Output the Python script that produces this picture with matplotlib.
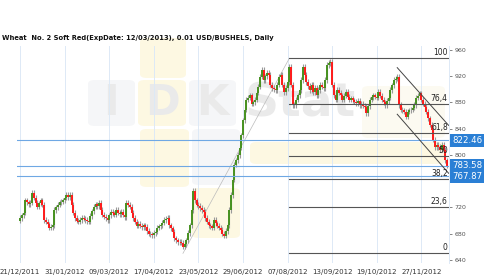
import matplotlib
matplotlib.use("Agg")
import matplotlib.pyplot as plt
from matplotlib.patches import FancyBboxPatch
import matplotlib.transforms as mtransforms

# ---------------- data ----------------
title = "Wheat  No. 2 Soft Red(ExpDate: 12/03/2013), 0.01 USD/BUSHELS, Daily"

closes = [
    704, 708, 712, 731, 728, 725, 727, 742, 735, 727,
    721, 726, 731, 724, 701, 698, 694, 689, 690, 693,
    716, 720, 724, 728, 729, 731, 735, 739, 736, 739,
    724, 712, 704, 700, 698, 701, 704, 703, 701, 699,
    698, 707, 714, 721, 725, 722, 727, 716, 709, 706,
    704, 701, 708, 713, 711, 709, 716, 712, 710, 713,
    709, 705, 727, 724, 721, 712, 704, 698, 692, 695,
    692, 690, 693, 690, 684, 680, 679, 678, 681, 683,
    689, 691, 693, 697, 701, 703, 704, 693, 688, 683,
    673, 670, 667, 668, 666, 660, 664, 670, 681, 693,
    716, 745, 731, 724, 722, 719, 716, 713, 704, 698,
    693, 691, 689, 701, 696, 692, 689, 686, 680, 677,
    684, 693, 716, 739, 762, 785, 792, 800, 811, 830,
    853, 869, 884, 887, 891, 878, 880, 884, 895, 904,
    919, 930, 914, 920, 925, 922, 907, 902, 900, 899,
    907, 919, 922, 907, 896, 902, 911, 934, 907, 876,
    876, 884, 891, 899, 914, 934, 922, 911, 905, 899,
    907, 896, 902, 891, 899, 907, 904, 902, 914, 937,
    940, 942, 907, 891, 884, 899, 895, 891, 884, 890,
    896, 889, 884, 886, 883, 881, 879, 882, 876, 878,
    875, 873, 864, 874, 884, 888, 891, 889, 887, 896,
    890, 884, 880, 876, 882, 887, 899, 906, 914, 916,
    919, 876, 869, 868, 866, 858, 866, 868, 869, 872,
    876, 887, 890, 894, 884, 878, 873, 866, 856, 846,
    838, 823, 812, 815, 812, 808, 815, 808, 792, 783.58,
]
first_open = 700

tick_labels = ["21/12/2011", "31/01/2012", "09/03/2012", "17/04/2012", "23/05/2012",
               "29/06/2012", "07/08/2012", "13/09/2012", "19/10/2012", "27/11/2012"]
tick_step = 26  # bars between date labels

y_ticks = [640, 680, 720, 760, 800, 840, 880, 920, 960]

# Fibonacci retracement
fib_low_idx, fib_low = 95, 650
fib_high_idx, fib_high = 157, 947
fib_levels = [0, 23.6, 38.2, 50, 61.8, 76.4, 100]
fib_names = ["0", "23,6", "38,2", "50", "61,8", "76,4", "100"]

# horizontal price lines
hlines = [822.46, 783.58, 767.87]
hline_labels = ["822.46", "783.58", "767.87"]

# descending channel (start idx, start price, end idx, end price)
channel_a = (220, 933, 250, 845)
channel_b = (220, 862, 250, 772)

# ---------------- figure ----------------
W, H, DPI = 500, 279, 100
fig = plt.figure(figsize=(W / DPI, H / DPI), dpi=DPI)
ax = fig.add_axes([17 / W, 1 - 263 / H, (449 - 17) / W, (263 - 46) / H])
ax.set_zorder(2)
ax.set_xlim(-1.8, 250.2)
ax.set_ylim(635.3, 966)
ax.set_facecolor("none")

# ---- watermark (figure pixel layout) ----
def px_box(x0, y0, x1, y1, fc):
    p = FancyBboxPatch((x0 / W, 1 - y1 / H), (x1 - x0) / W, (y1 - y0) / H,
                       boxstyle="round,pad=0,rounding_size=0.014",
                       transform=fig.transFigure, fc=fc, ec="none", zorder=0)
    fig.patches.append(p)

yel = "#fdf8e2"
gry = "#f5f6f8"
px_box(140, 38, 186, 78, yel)
px_box(88, 80, 135, 126, gry)
px_box(138, 80, 186, 126, yel)
px_box(189, 80, 236, 126, gry)
px_box(140, 129, 189, 187, yel)
px_box(192, 129, 240, 185, gry)
px_box(192, 188, 240, 238, yel)
px_box(250, 142, 445, 164, yel)
px_box(362, 86, 445, 138, "#fcfaf1")
for ch, cx in [("I", 111), ("D", 162), ("K", 212)]:
    fig.text(cx / W, 1 - 103 / H, ch, fontsize=30, fontweight="bold", color="#eaeaea",
             ha="center", va="center", zorder=1)
fig.text(300 / W, 1 - 104 / H, "Stat", fontsize=34, fontweight="bold", color="#eaeaea",
         ha="center", va="center", zorder=1)

# ---- grid ----
ticks = [i * tick_step for i in range(len(tick_labels))]
for t in ticks:
    ax.axvline(t, color="#dde9f6", lw=0.7, zorder=1)

# ---- candles ----
opens = [first_open] + closes[:-1]
wick = 4
for i, (o, c) in enumerate(zip(opens, closes)):
    hi = max(o, c) + wick
    lo = min(o, c) - wick
    ax.vlines(i, lo, hi, color="#9a9a9a", lw=0.8, zorder=3)
    col = "#46911f" if c >= o else "#ff1a1a"
    ax.vlines(i, min(o, c), max(o, c), color=col, lw=1.4, zorder=4)

# ---- horizontal blue lines ----
for v in hlines:
    ax.axhline(v, color="#6fa8e4", lw=0.8, zorder=5)

# ---- fibonacci ----
rng = fib_high - fib_low
for lev, name in zip(fib_levels, fib_names):
    price = fib_low + rng * lev / 100
    ax.plot([fib_high_idx, 250.2], [price, price], color="#555555", lw=0.8, zorder=5)
    ax.text(249.5, price + 2, name, ha="right", va="bottom", fontsize=5.5,
            color="#222222", zorder=6)
ax.plot([fib_low_idx, fib_high_idx], [fib_low, fib_high], color="#bbbbbb", lw=0.5, zorder=2)

# ---- channel ----
for ch in (channel_a, channel_b):
    ax.plot([ch[0], ch[2]], [ch[1], ch[3]], color="#444444", lw=0.7, zorder=5)

# ---- axes ----
ax.yaxis.tick_right()
ax.set_yticks(y_ticks)
ax.set_yticklabels([str(v) for v in y_ticks])
ax.tick_params(axis="y", labelsize=4.5, colors="#555555", length=2, width=0.5, pad=2)
ax.set_xticks(ticks)
ax.set_xticklabels(tick_labels)
ax.tick_params(axis="x", labelsize=5, colors="#333333", length=0, pad=4)
for s in ["top", "left", "bottom"]:
    ax.spines[s].set_visible(False)
ax.spines["right"].set_color("#dde9f6")
ax.spines["right"].set_linewidth(0.7)

# value labels on the right
trans = mtransforms.blended_transform_factory(ax.transAxes, ax.transData)
for v, lab in zip(hlines, hline_labels):
    ax.text(1.0 + 3 / (449 - 17), v, lab, transform=trans, ha="left", va="center",
            fontsize=6.2, color="white", zorder=10, clip_on=False,
            bbox=dict(boxstyle="square,pad=0.25", fc="#2a7fd5", ec="none"))

fig.text(2 / W, 1 - 38 / H, title, fontsize=4.9, fontweight="bold", color="#111111",
         ha="left", va="center")

fig.savefig("out.png", dpi=DPI)
